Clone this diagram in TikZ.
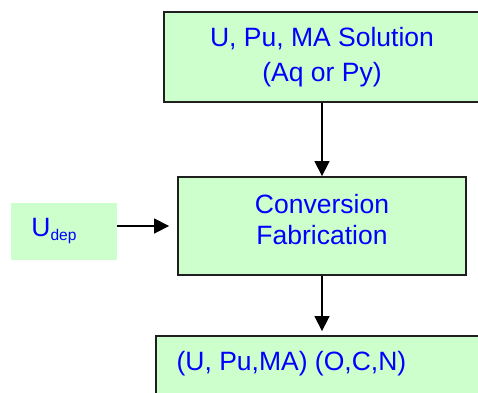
\documentclass[tikz,border=0pt]{standalone}
\usepackage{fontspec}
\setmainfont{Liberation Sans}
\usetikzlibrary{arrows.meta}
\definecolor{boxfill}{HTML}{CCFFCC}
\definecolor{txtblue}{HTML}{0000FF}
\tikzset{
  procbox/.style={draw=black!88, line width=1.8pt, fill=boxfill, inner sep=0pt, anchor=center},
  plainbox/.style={fill=boxfill, inner sep=0pt, anchor=center},
  lbl/.style={text=txtblue, inner sep=0pt, font=\fontsize{26.5}{31}\selectfont},
  arr/.style={line width=1.4pt, -{Triangle[width=15pt,length=15pt]}}
}
\begin{document}
\begin{tikzpicture}[x=1pt,y=-1pt]
\useasboundingbox (0,0) rectangle (478,392);
\clip (0,0) rectangle (478,392);
% boxes
\node[procbox, minimum width=316pt, minimum height=90pt] (sol) at (322,56.7) {};
\node[procbox, minimum width=288pt, minimum height=98pt] (mid) at (322,226) {};
\node[plainbox, minimum width=106pt, minimum height=57pt] (udep) at (64,231.8) {};
\node[procbox, minimum width=334pt, minimum height=84pt] (res) at (323,378) {};
% texts
\node[lbl, anchor=base] (solA) at (322,46.7) {U, Pu, MA Solution};
\node[lbl, anchor=base] (solB) at (322,81.7) {(Aq or Py)};
\node[lbl, anchor=base] (midA) at (322,213) {Conversion};
\node[lbl, anchor=base] (midB) at (322,244) {Fabrication};
\node[lbl, anchor=base west] (udepT) at (31.2,236.7) {U{\fontsize{15.5}{15.5}\selectfont\raisebox{-3.3pt}{dep}}};
\node[lbl, anchor=base west] (resT) at (176.4,370) {(U, Pu,MA) (O,C,N)};
% connectors
\draw[arr] (sol.south) -- (mid.north);
\draw[arr, shorten >=8pt] (udep.east |- mid.west) -- (mid.west);
\draw[arr, shorten >=4pt] (mid.south) -- (mid.south |- res.north);
\end{tikzpicture}
\end{document}
